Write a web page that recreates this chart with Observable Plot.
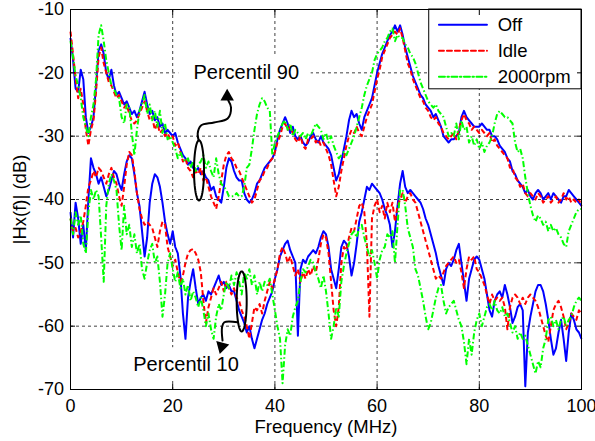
<!DOCTYPE html>
<html><head><meta charset="utf-8">
<script src="https://cdn.jsdelivr.net/npm/d3@7"></script>
<script src="https://cdn.jsdelivr.net/npm/@observablehq/plot@0.6"></script>
<style>body{margin:0;background:#fff}#chart svg{display:block}</style>
</head><body><div id="chart"></div>
<script>
// Frequency grid (MHz), one sample every 0.5 MHz
const freq = d3.range(0, 100.01, 0.5);

const xTicks = [0, 20, 40, 60, 80, 100];
const yTicks = [-70, -60, -50, -40, -30, -20, -10];
const seriesNames = ["Off", "Idle", "2000rpm"];
const seriesColors = ["#0000ff", "#ff0000", "#00ff00"];
const seriesDash = [null, "5,3", "6,2.5,1.5,2.5"];

// Percentil 90 curves (dB)
const off90 = [
-14.5,-18,-22.5,-23,-19.5,-21,-27,-29.5,-28.5,-27,
-22,-16.5,-15.5,-17,-20,-21,-19.5,-22,-23.5,-23,
-24,-25,-24.5,-25.5,-26.5,-26,-27,-26,-24.5,-23,
-25,-26.5,-26,-27.5,-27,-28.5,-28,-29.5,-29,-29.5,
-30,-29.5,-31,-32,-33,-33.5,-34.5,-34,-35,-35.5,
-35,-36,-35.5,-36.5,-37,-38.5,-38,-39.5,-40,-40.5,
-38,-35,-33.5,-34,-35.5,-36.5,-37,-37,-39,-40,
-40.5,-40,-39,-37.5,-37,-36,-35,-34.5,-34,-33.5,
-32.5,-30.5,-29,-28,-27,-28,-29.5,-28.5,-30,-30.5,
-30,-31,-31.5,-31,-30,-29.5,-30.5,-31,-30,-31,
-31.5,-32,-33,-35,-37,-36,-34,-32,-30,-27.5,
-26,-27,-26.5,-28,-29,-27,-26,-25,-24,-22,
-20,-18.5,-17,-16,-15,-14,-13.5,-12.5,-13.5,-12.5,
-14,-16,-17.5,-19,-20.5,-21.5,-22.5,-23.5,-24,-25,
-25.5,-26,-27,-26.5,-27.5,-28.5,-30,-30.5,-31,-30.5,
-30.5,-30,-29.5,-27,-26,-27,-27.5,-28,-28.5,-28.5,
-28.5,-28,-28.5,-29,-29,-30,-30,-30.5,-31.5,-32,
-32.5,-33.5,-34,-35.5,-36,-37,-37.5,-38,-39,-38.5,
-39.5,-40,-39,-38.5,-39,-40,-39.5,-39,-40,-39,
-39.5,-40,-40.5,-39.5,-39.5,-38.5,-39,-39.5,-40,-40.5,
-41];
const idle90 = [
-13.5,-17,-21,-24,-22.5,-25,-29,-31.5,-29,-27.5,
-23,-17.5,-16,-18.5,-20,-21.5,-22,-23,-24,-23.5,
-24.5,-25.5,-25,-26.5,-27.5,-28,-27.5,-26.5,-25.5,-24.5,
-26,-27.5,-27,-29,-28,-29.5,-29,-30,-29.5,-30.5,
-30,-31.5,-31,-32.5,-34,-33.5,-35,-35.5,-36.5,-35.5,
-36,-35,-37,-36.5,-38,-39.5,-40.5,-41.5,-39.5,-37,
-34.5,-33,-32.5,-33.5,-34,-35,-35.5,-36.5,-37.5,-38.5,
-39.5,-40.5,-40,-38.5,-37,-36.5,-35.5,-35,-34,-33.5,
-32.5,-31,-30,-28.5,-28,-29,-28.5,-29.5,-30.5,-31,
-30,-31.5,-32,-30.5,-30.5,-30,-31,-30.5,-31.5,-31,
-32,-33,-34.5,-37,-39.5,-38,-35.5,-33.5,-31.5,-30,
-29,-29.5,-28.5,-29.5,-30,-28.5,-27,-26,-25,-23,
-21,-19.5,-17.5,-16.5,-15.5,-14.5,-14,-13.5,-14,-13,
-14.5,-16.5,-18.5,-19.5,-21,-22,-23,-24,-24.5,-25.5,
-26,-27,-27.5,-27,-28,-28.5,-29.5,-30,-30.5,-30,
-29.5,-30.5,-29,-27.5,-26.5,-27.5,-28,-29,-28.5,-29,
-29.5,-29,-29.5,-30,-29.5,-31,-30.5,-31.5,-32,-32.5,
-33,-33.5,-35,-35,-36.5,-37,-38,-37.5,-39,-39.5,
-39,-39.5,-40,-39,-39.5,-40.5,-40,-39.5,-40.5,-40,
-39.5,-40.5,-40,-39,-40,-39.5,-40.5,-40,-40.5,-40,
-41];
const rpm90 = [
-15,-17.5,-20.5,-22,-24,-27,-28.5,-30,-27,-25,
-21,-14,-12.5,-15,-18,-20,-22,-22.5,-23.5,-24,
-27,-28,-25,-25.5,-29.5,-33,-29,-26,-25,-23.5,
-26.5,-25,-27.5,-26,-28.5,-26,-29.5,-28,-30.5,-30,
-31,-32,-33.5,-32.5,-33.5,-34,-33.5,-35,-34,-35.5,
-34.5,-34,-33,-35,-34,-35.5,-36.5,-33.5,-36,-37.5,
-38,-38.5,-39.5,-39.5,-39.5,-39,-39.5,-39.5,-38,-35,
-34.5,-32,-29,-26.5,-25,-24,-24.5,-25.5,-26,-33,
-31,-30,-29,-28,-27.5,-29,-28,-30,-29,-29.5,
-30,-29.5,-30.5,-29.5,-30,-29,-28,-28.5,-29,-30.5,
-29.5,-31,-30,-31.5,-32.5,-33.5,-33,-32.5,-33,-32,
-31,-30,-28.5,-27,-25.5,-23.5,-22,-21,-20,-18,
-17,-16.5,-16,-15,-14.5,-13.5,-13,-15,-14,-14.5,
-14.5,-15.5,-16,-17,-17.5,-18.5,-20,-21.5,-22.5,-23.5,
-24.5,-25,-25.5,-25,-26,-26.5,-27,-28.5,-30,-29.5,
-30,-28,-30.5,-27.5,-29,-28.5,-31,-30,-31.5,-30.5,
-32,-31,-32.5,-31.5,-31,-30,-28,-26.5,-26,-26.5,
-27,-27,-27.5,-28,-31,-32.5,-32,-33.5,-36.5,-39,
-41,-42.5,-43.5,-42.5,-43,-44,-43.5,-45,-44,-45,
-44.5,-45.5,-46,-47,-47.5,-45,-44,-43,-42,-41.5,
-41.5];

// Percentil 10 curves (dB)
const off10 = [
-42,-46,-40.5,-43,-47,-44,-48,-40,-33.5,-35,
-36,-37.5,-36.5,-38,-39.5,-38.5,-37,-35.5,-36,-37.5,
-38.5,-36,-34,-33,-33.5,-36,-39,-41,-45,-49,
-46,-40.5,-37.5,-36,-36.5,-38,-40.5,-43.5,-45.5,-47,
-45,-47.5,-48.5,-52,-58,-62,-55.5,-53,-51,-54,
-56.5,-55.5,-55,-56,-54.5,-55,-54,-53,-52,-53.5,
-53,-54,-53.5,-54.5,-54.5,-56,-57.5,-58.5,-59.5,-61,
-60,-62,-63.5,-62,-60.5,-59,-58,-56.5,-55.5,-54.5,
-52.5,-51,-49,-48,-47,-46.5,-48,-49,-50,-61.5,
-51,-49.5,-50,-49,-48.5,-48,-48.5,-47.5,-46,-45,
-45.5,-47.5,-51,-52.5,-54,-51,-47.5,-46.5,-47,-49,
-52,-50,-47,-43.5,-42,-40,-38,-38.5,-37.5,-38,
-38.5,-39,-40,-41.5,-42.5,-44,-47.5,-45,-41,-37.5,
-35.5,-38,-39,-38.5,-39,-39.5,-40,-40.5,-41.5,-43,
-44,-45.5,-47,-48.5,-50.5,-52,-53.5,-51,-50,-50.5,
-49.5,-48,-47,-50,-53,-56,-52.5,-51,-49.5,-49,
-49.5,-51,-52.5,-55,-57.5,-58.5,-56,-55,-54.5,-55.5,
-53.5,-55,-57,-59.5,-58.5,-57,-56.5,-57.5,-69.5,-61,
-58.5,-56.5,-54.5,-53.5,-53.5,-54.5,-56.5,-59,-62,-64.5,
-63.5,-61,-59,-62,-65.5,-61,-58,-59,-60.5,-61,
-62];
const idle10 = [
-43,-45,-44.5,-46,-45,-43.5,-41,-38,-37,-35.5,
-36.5,-35,-35.5,-36.5,-37.5,-36,-35,-36.5,-37.5,-39.5,
-41,-38,-34.5,-32.5,-33,-35.5,-39,-41.5,-43,-44,
-43.5,-44,-44.5,-46,-47.5,-45,-43.5,-44,-47.5,-49,
-50.5,-49.5,-51.5,-53,-52,-50,-48.5,-48,-47.8,-48.5,
-49.5,-51.5,-56,-59.5,-57,-55.5,-54,-55,-54,-53,
-54.5,-53,-54,-55,-54,-55.5,-56,-57.5,-58.5,-60,
-62,-59.5,-57,-57.5,-56.5,-58,-56,-54.5,-53,-54,
-52.5,-51,-48.5,-47.5,-48.5,-50,-49,-50.5,-52,-51,
-53,-51.5,-52.5,-51,-52,-50.5,-51.5,-49.5,-47,-45.5,
-46,-48.5,-53,-57.5,-60,-57,-50,-47.5,-48,-46,
-44.5,-45,-43,-41,-40.5,-42,-47,-58.5,-43,-41,
-40,-42,-41,-43,-40.5,-42,-40.5,-43.5,-41,-40,
-39,-40.5,-39.5,-39,-40,-40.5,-42,-43.5,-45,-46.5,
-48,-49.5,-51,-52.5,-52,-52.5,-51.5,-50.5,-50,-49.5,
-49,-50,-49.5,-51.5,-54,-51,-49,-49.5,-49,-51,
-51.5,-52.5,-53.5,-55,-56.5,-55,-56,-55.5,-56,-55.5,
-57,-60.5,-57,-55.5,-55,-55.5,-56.5,-55.5,-56.5,-55.5,
-55,-55.5,-56,-57,-58.5,-60,-61.5,-62.5,-60,-57.5,
-56.5,-56,-57,-58.5,-60.5,-59.5,-58,-58.5,-59,-57.5,
-58];
const rpm10 = [
-43,-45.5,-42,-44,-42.5,-47,-48.5,-42,-38.5,-40,
-38.5,-39.5,-46,-53,-41,-37.5,-36,-37,-38.5,-44,
-48,-41,-45.5,-44,-47.5,-45.5,-48.5,-47,-51,-52.5,
-50,-48,-47,-50,-49,-53,-58.5,-55,-50,-48.5,
-51,-53,-51.5,-54,-52.5,-55,-53.5,-56,-54.5,-55.5,
-57,-55.5,-57.5,-60,-58,-60.5,-62,-58.5,-56.5,-57.5,
-55,-53,-54,-52,-53.5,-51.5,-53,-55,-51.5,-52.5,
-51,-53.5,-52,-55,-53,-54.5,-53,-53.5,-52.5,-55,
-57.5,-60,-62,-69,-63,-60.5,-61.5,-58.5,-57,-56,
-53,-51,-51.5,-50.5,-49.5,-50,-51.5,-52.5,-54,-52,
-54.5,-58,-62,-60,-57,-58.5,-53,-50.5,-48.5,-47,
-45.5,-45,-46,-44.5,-44,-46,-47.5,-49,-48,-50,
-52.5,-49.5,-48,-47.5,-45.5,-46,-45,-50,-44,-38.5,
-38.5,-41,-44.5,-46,-47.5,-51,-52,-54,-56,-58.5,
-60.5,-59.5,-57.5,-55.5,-54,-53.5,-56,-58,-57,-56.5,
-56,-57.5,-59,-60,-62.5,-66,-62,-64.5,-61,-59,
-58,-60,-58.5,-57,-56.5,-57.5,-56,-57.5,-58,-57,
-58.5,-58,-59.5,-61,-60,-62,-61,-62,-61.5,-63,
-64.5,-66,-67.5,-65.5,-66.5,-63.5,-62,-59,-58.5,-60,
-59,-60.5,-59,-58.5,-60,-59,-58.5,-57,-56,-55.5,
-56];

// Annotations (data units)
const annoLabels = ["Percentil 90", "Percentil 10"];
const annoLabelPos = [[34.4, -19.95], [22.6, -66.05]];
const annoBoxes = [[21.2, 47.1, -17.3, -22.5], [10.9, 34.7, -63.4, -68.7]];
const ellipseCenters = [[25.15, -35.4], [33.5, -56.1]];
const ellipseRadii = [0.98, 4.75];
const arrowPaths = [
  [[25.09,-30.69],[24.89,-29.58],[25.54,-28.32],[28.08,-27.84],[30.76,-27.21],[31.41,-25.47],[30.88,-24.37]],
  [[32.72,-59.38],[30.10,-59.38],[29.65,-60.21],[29.75,-62.27]]
];
const arrowHeads = [[30.66,-23.75,0],[29.6,-63.2,195]];

// Legend placement (data units)
const legendBox = [70.2, 100, -10, -22.6];
const legendRows = [-12.4, -16.5, -20.6];
const legendLineX = [72.1, 81.5];
const legendTextX = 83.6;

// Build tables
const seriesData = [[off90, off10], [idle90, idle10], [rpm90, rpm10]];
const lineMarks = [];
seriesData.forEach((pair, i) => {
  pair.forEach((vals, j) => {
    const rows = freq.map((f, k) => ({f, v: vals[k]}));
    lineMarks.push(Plot.line(rows, {
      x: "f", y: "v", stroke: seriesColors[i], strokeWidth: 2,
      strokeDasharray: seriesDash[i], strokeLinejoin: "round", strokeLinecap: "butt"
    }));
  });
});

const ellipsePts = ellipseCenters.map(([cx, cy], e) =>
  d3.range(0, 61).map(t => ({e, x: cx + ellipseRadii[0] * Math.cos(t / 60 * 2 * Math.PI),
                               y: cy + ellipseRadii[1] * Math.sin(t / 60 * 2 * Math.PI)}))).flat();
const arrowPts = arrowPaths.map((p, a) => p.map(([x, y]) => ({a, x, y}))).flat();
const heads = arrowHeads.map(([x, y, r]) => ({x, y, r}));
const boxes = annoBoxes.map(([x1, x2, y1, y2]) => ({x1, x2, y1, y2}));
const labels = annoLabels.map((t, i) => ({t, x: annoLabelPos[i][0], y: annoLabelPos[i][1]}));

const legendLines = seriesNames.map((n, i) => [
  {n, x: legendLineX[0], y: legendRows[i]}, {n, x: legendLineX[1], y: legendRows[i]}]);
const legendMarks = legendLines.map((pts, i) => Plot.line(pts, {
  x: "x", y: "y", stroke: seriesColors[i], strokeWidth: 2, strokeDasharray: seriesDash[i]}));

const font = "'Liberation Sans', Arial, Helvetica, sans-serif";
const fmt = d => String(d);

const chart = Plot.plot({
  width: 595, height: 441,
  marginLeft: 70, marginRight: 14, marginTop: 9, marginBottom: 52,
  style: {fontFamily: font, fontSize: "18px", background: "#fff", color: "#000", overflow: "visible"},
  x: {domain: [0, 100]},
  y: {domain: [-70, -10]},
  marks: [
    Plot.gridX([20, 40, 60, 80], {stroke: "#000", strokeOpacity: 0.75, strokeDasharray: "3,3"}),
    Plot.gridY([-60, -50, -40, -30, -20], {stroke: "#000", strokeOpacity: 0.75, strokeDasharray: "3,3"}),
    Plot.rect(boxes, {x1: "x1", x2: "x2", y1: "y1", y2: "y2", fill: "#fff"}),
    ...lineMarks,
    Plot.line(ellipsePts, {x: "x", y: "y", z: "e", stroke: "#000", strokeWidth: 2}),
    Plot.line(arrowPts, {x: "x", y: "y", z: "a", stroke: "#000", strokeWidth: 2, curve: "catmull-rom"}),
    Plot.dot(heads, {x: "x", y: "y", rotate: "r", symbol: "triangle", fill: "#000", r: 5}),
    Plot.text(labels, {x: "x", y: "y", text: "t", fontSize: 20, fill: "#000"}),
    Plot.rect([legendBox], {x1: d => d[0], x2: d => d[1], y1: d => d[2], y2: d => d[3], fill: "#fff", stroke: "#000", strokeWidth: 1}),
    ...legendMarks,
    Plot.text(seriesNames, {x: legendTextX, y: (d, i) => legendRows[i], text: d => d, textAnchor: "start", fontSize: 18.5, fill: "#000"}),
    Plot.frame({stroke: "#000", strokeWidth: 1}),
    Plot.axisX(xTicks, {anchor: "bottom", tickSize: -5, tickPadding: 15, tickFormat: fmt, label: null}),
    Plot.axisX(xTicks, {anchor: "top", tickSize: -5, tickFormat: () => "", label: null}),
    Plot.axisY(yTicks, {anchor: "left", tickSize: -5, tickPadding: 11.5, tickFormat: fmt, label: null}),
    Plot.axisY(yTicks, {anchor: "right", tickSize: -5, tickFormat: () => "", label: null}),
    Plot.text(["Frequency (MHz)"], {frameAnchor: "bottom", dy: 38, lineAnchor: "middle", textAnchor: "middle", text: d => d, fontSize: 18.5, fill: "#000"}),
    Plot.text(["|Hx(f)| (dB)"], {frameAnchor: "left", dx: -50, rotate: -90, lineAnchor: "middle", textAnchor: "middle", text: d => d, fontSize: 18.5, fill: "#000"})
  ]
});
document.getElementById("chart").appendChild(chart);
</script></body></html>
